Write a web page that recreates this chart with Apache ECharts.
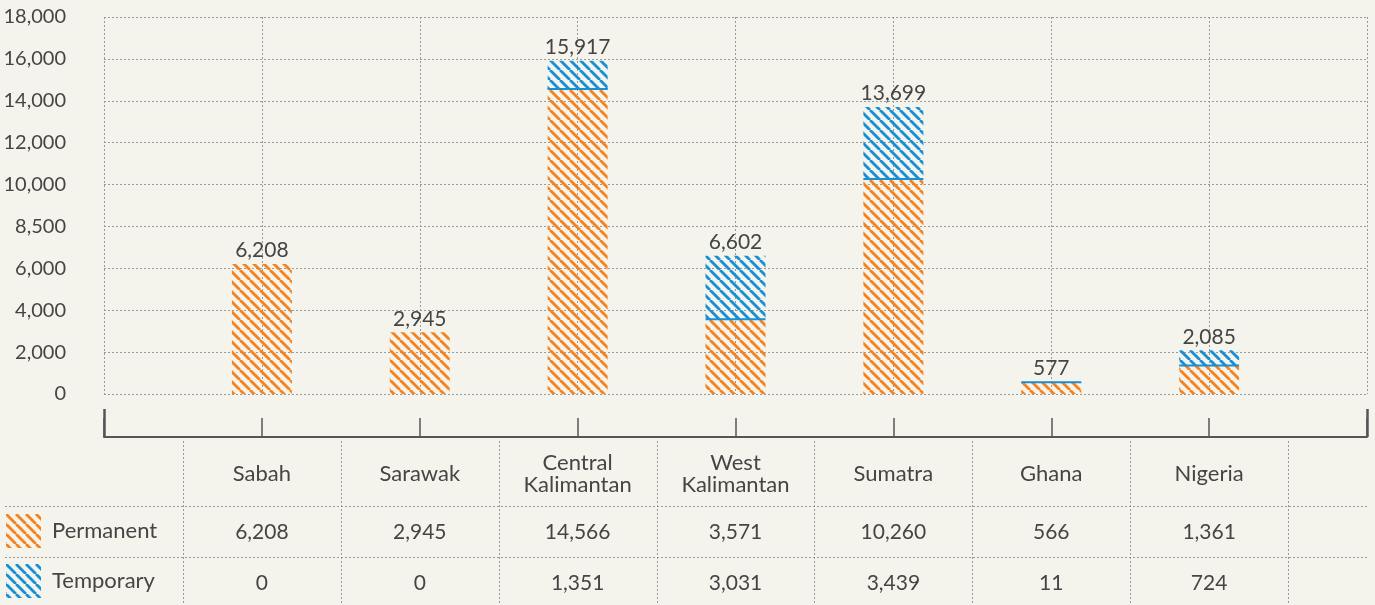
<!DOCTYPE html>
<html>
<head>
<meta charset="utf-8">
<script src="https://cdn.jsdelivr.net/npm/echarts@6/dist/echarts.min.js"></script>
<style>
  html, body { margin: 0; padding: 0; background: #f5f4ec; }
  #chart { width: 1375px; height: 605px; }
</style>
</head>
<body>
<div id="chart"></div>
<script>
// Plantation workforce by region
const categories = ['Sabah', 'Sarawak', 'Central\nKalimantan', 'West\nKalimantan', 'Sumatra', 'Ghana', 'Nigeria'];
const permanent = [6208, 2945, 14566, 3571, 10260, 566, 1361];
const temporary = [0, 0, 1351, 3031, 3439, 11, 724];
const totals = [6208, 2945, 15917, 6602, 13699, 577, 2085];
const yTickLabels = ['0', '2,000', '4,000', '6,000', '8,500', '10,000', '12,000', '14,000', '16,000', '18,000'];
const seriesNames = ['Permanent', 'Temporary'];

const ORANGE = '#f5821f';
const BLUE = '#168fd7';
const TEXT = '#454545';
const FONT = 'Lato';
const WORD_SIZE = 22;
const NUM_SIZE = 21;
const AXIS_SIZE = 20;
const BAR_WIDTH = 60;

const fmt = n => n.toLocaleString('en-US');
const pad = arr => [''].concat(arr, ['']);   // empty slots at both axis ends

// diagonal hatch tile
function hatch(color) {
  const s = 10;
  const c = document.createElement('canvas');
  c.width = s; c.height = s;
  const g = c.getContext('2d');
  g.strokeStyle = color;
  g.lineWidth = 2.8;
  for (let k = -1; k <= 1; k++) {
    g.beginPath();
    g.moveTo(k * s, 0);
    g.lineTo(k * s + s, s);
    g.stroke();
  }
  return { image: c, repeat: 'repeat' };
}

const axisData = pad(categories);
const font = size => ({ fontFamily: FONT, fontSize: size, color: TEXT });

const baseX = {
  type: 'category',
  data: axisData,
  boundaryGap: false,
  gridIndex: 0,
  position: 'bottom',
  axisLine: { show: false, onZero: false },
  axisTick: { show: false },
  axisLabel: { show: false },
  splitLine: { show: false }
};

function labelAxis(data, margin, size) {
  return Object.assign({}, baseX, {
    data: pad(data),
    axisLabel: Object.assign({ show: true, interval: 0, margin: margin, verticalAlign: 'middle', lineHeight: 22 }, font(size))
  });
}

const chart = echarts.init(document.getElementById('chart'));

chart.setOption({
  backgroundColor: '#f5f4ec',
  animation: false,
  grid: { left: 104, right: 8, top: 17, bottom: 211 },
  legend: {
    orient: 'vertical',
    left: 6,
    top: 514,
    padding: 0,
    itemWidth: 35,
    itemHeight: 34,
    itemGap: 16,
    icon: 'rect',
    selectedMode: false,
    data: seriesNames,
    textStyle: Object.assign({ padding: [0, 0, 0, 6] }, font(WORD_SIZE))
  },
  xAxis: [
    Object.assign({}, baseX, {
      offset: 43,
      axisLine: { show: true, onZero: false, lineStyle: { color: '#555', width: 2 } },
      axisTick: { show: true, inside: true, length: 19, interval: 0, lineStyle: { color: '#555', width: 1.5 } },
      splitLine: { show: true, interval: 0, lineStyle: { color: '#9a9a9a', width: 1, type: [2, 2] } }
    }),
    Object.assign({}, baseX, {
      offset: 43,
      axisTick: {
        show: true, inside: true, length: 28,
        interval: i => i === 0 || i === axisData.length - 1,
        lineStyle: { color: '#555', width: 2.5 }
      }
    }),
    labelAxis(categories, 80, WORD_SIZE),
    labelAxis(permanent.map(fmt), 138, NUM_SIZE),
    labelAxis(temporary.map(fmt), 189, NUM_SIZE)
  ],
  yAxis: {
    type: 'value',
    min: 0,
    max: 18000,
    interval: 2000,
    axisLine: { show: false },
    axisTick: { show: false },
    axisLabel: Object.assign({ margin: 38, formatter: v => yTickLabels[Math.round(v / 2000)] }, font(AXIS_SIZE)),
    splitLine: { show: true, lineStyle: { color: '#9a9a9a', width: 1, type: [2, 2] } }
  },
  series: [
    {
      name: seriesNames[0],
      type: 'bar',
      stack: 'workers',
      barWidth: BAR_WIDTH,
      itemStyle: { color: hatch(ORANGE) },
      data: pad(permanent).map(v => (v === '' ? null : v))
    },
    {
      name: seriesNames[1],
      type: 'bar',
      stack: 'workers',
      barWidth: BAR_WIDTH,
      itemStyle: { color: hatch(BLUE) },
      label: Object.assign({
        show: true,
        position: 'top',
        distance: 3,
        formatter: p => fmt(totals[p.dataIndex - 1])
      }, font(NUM_SIZE)),
      data: pad(temporary).map(v => (v === '' ? null : v))
    },
    {
      // solid rule where temporary workers sit on top of permanent ones
      type: 'custom',
      silent: true,
      z: 5,
      renderItem: (params, api) => {
        if (!api.value(2)) return;
        const pt = api.coord([api.value(0), api.value(1)]);
        return {
          type: 'line',
          shape: { x1: pt[0] - BAR_WIDTH / 2, y1: pt[1], x2: pt[0] + BAR_WIDTH / 2, y2: pt[1] },
          style: { stroke: BLUE, lineWidth: 2 }
        };
      },
      data: permanent.map((p, i) => [i + 1, p, temporary[i]])
    }
  ]
});

// table rules under the axis
const dash = { stroke: '#9a9a9a', lineWidth: 1, lineDash: [2, 2] };
const px = i => chart.convertToPixel({ xAxisIndex: 0 }, i);
const rightEdge = px(axisData.length - 1);
const rules = [];
for (let i = 0; i < axisData.length - 1; i++) {
  const x = Math.round((px(i) + px(i + 1)) / 2) + 0.5;
  rules.push({ type: 'line', silent: true, shape: { x1: x, y1: 441, x2: x, y2: 605 }, style: dash });
}
[506.5, 557.5].forEach(y => {
  rules.push({ type: 'line', silent: true, shape: { x1: 5, y1: y, x2: rightEdge, y2: y }, style: dash });
});
chart.setOption({ graphic: rules });
</script>
</body>
</html>
